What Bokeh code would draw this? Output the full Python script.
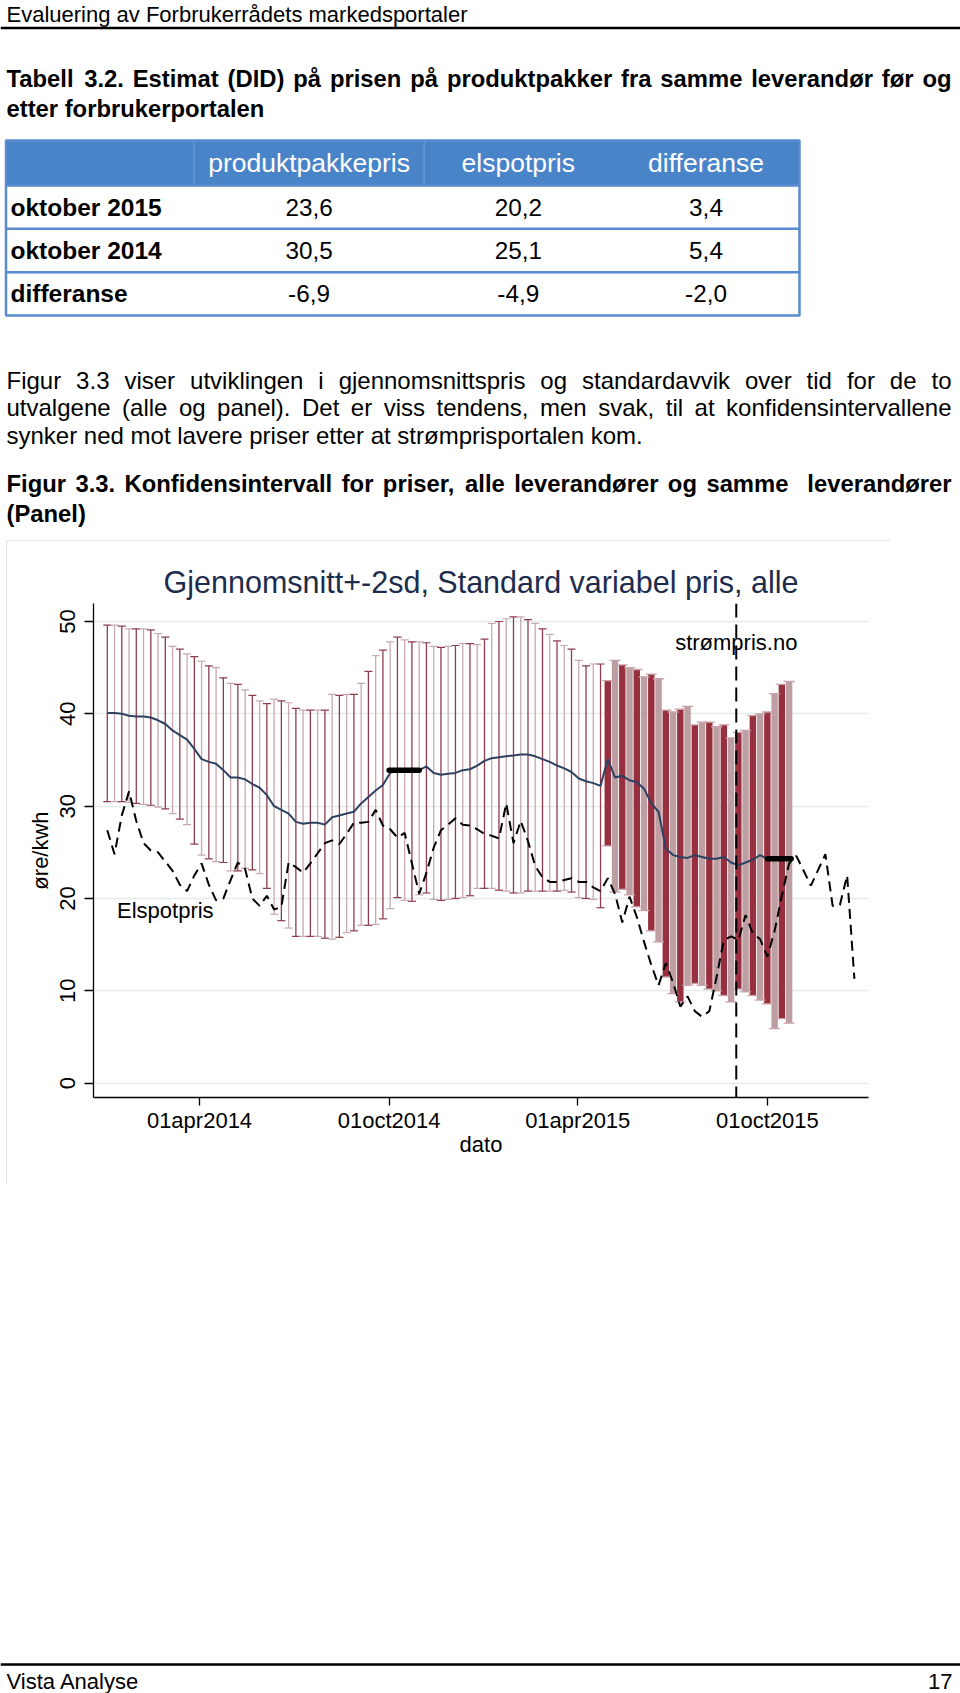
import numpy as np
import pandas as pd
from bokeh.plotting import figure
from bokeh.models import Range1d, FixedTicker, Span, ColumnDataSource, Spacer
from bokeh.layouts import column, row
from bokeh.core.properties import value
from bokeh.embed import file_html
from bokeh.resources import INLINE

FONT = "Liberation Sans"

# ---------------- page texts ----------------
header_text = "Evaluering av Forbrukerrådets markedsportaler"
table_title = ["Tabell 3.2. Estimat (DID) på prisen på produktpakker fra samme leverandør før og",
               "etter forbrukerportalen"]
table_columns = ["produktpakkepris", "elspotpris", "differanse"]
table_rows = ["oktober 2015", "oktober 2014", "differanse"]
produktpakkepris = ["23,6", "30,5", "-6,9"]
elspotpris = ["20,2", "25,1", "-4,9"]
differanse = ["3,4", "5,4", "-2,0"]
paragraph = ["Figur 3.3 viser utviklingen i gjennomsnittspris og standardavvik over tid for de to",
             "utvalgene (alle og panel). Det er viss tendens, men svak, til at konfidensintervallene",
             "synker ned mot lavere priser etter at strømprisportalen kom."]
figure_caption = ["Figur 3.3. Konfidensintervall for priser, alle leverandører og samme  leverandører",
                  "(Panel)"]
footer_left = "Vista Analyse"
footer_right = "17"

# ---------------- chart data ----------------
chart_title = "Gjennomsnitt+-2sd, Standard variabel pris, alle"
y_label = "øre/kwh"
x_label = "dato"
x_tick_dates = ["2014-04-01", "2014-10-01", "2015-04-01", "2015-10-01"]
x_tick_labels = ["01apr2014", "01oct2014", "01apr2015", "01oct2015"]
y_ticks = [0, 10, 20, 30, 40, 50]

alle_start = "2014-01-02"   # weekly observations, all suppliers
alle_mean = [40.1, 40.1, 40.0, 39.8, 39.7, 39.7, 39.6, 39.3, 38.9, 38.2,
             37.7, 37.2, 36.2, 35.1, 34.8, 34.6, 33.9, 33.1, 33.1, 32.9,
             32.4, 32.0, 31.2, 30.0, 29.6, 29.2, 28.3, 28.1, 28.2, 28.2,
             28.0, 28.8, 29.0, 29.2, 29.4, 30.3, 31.0, 31.7, 32.3, 33.6,
             33.9, 33.9, 33.9, 33.9, 34.3, 33.6, 33.4, 33.5, 33.6, 33.9,
             34.0, 34.4, 34.9, 35.2, 35.3, 35.4, 35.5, 35.6, 35.6, 35.4,
             35.1, 34.8, 34.4, 34.1, 33.7, 33.0, 32.7, 32.5, 32.2]
alle_upper = [49.6, 49.6, 49.5, 49.2, 49.2, 49.2, 49.1, 48.7, 48.3, 47.3,
              47.0, 46.5, 46.2, 45.7, 45.2, 45.0, 43.9, 43.3, 43.2, 42.6,
              42.0, 41.4, 41.1, 41.6, 41.4, 41.2, 40.6, 40.4, 40.4, 40.4,
              40.4, 42.1, 42.0, 42.1, 42.1, 43.3, 44.6, 46.3, 46.9, 47.8,
              48.3, 48.0, 47.8, 47.8, 47.7, 47.3, 47.2, 47.3, 47.4, 47.6,
              47.6, 47.5, 48.1, 49.8, 50.0, 50.3, 50.5, 50.5, 50.2, 49.8,
              49.2, 48.6, 47.9, 47.4, 47.0, 45.8, 45.2, 45.4, 45.4]
alle_lower = [30.5, 30.5, 30.5, 30.4, 30.3, 30.2, 30.1, 29.9, 29.7, 29.2,
              28.6, 28.0, 25.9, 24.7, 24.3, 24.0, 23.9, 23.0, 23.0, 23.3,
              23.1, 22.7, 21.1, 18.3, 17.6, 16.8, 15.9, 15.9, 15.9, 15.9,
              15.7, 15.6, 15.8, 16.3, 16.5, 17.1, 17.1, 17.2, 17.8, 18.9,
              20.1, 19.8, 19.7, 20.4, 20.6, 19.9, 19.8, 19.9, 20.0, 20.1,
              20.3, 21.1, 21.1, 21.1, 20.9, 20.8, 20.6, 20.6, 20.8, 20.8,
              20.8, 20.8, 20.8, 20.9, 20.7, 20.1, 20.0, 19.9, 19.0]

panel_start = "2015-04-30"  # weekly observations, panel
panel_mean = [35.1, 33.1, 33.3, 32.8, 32.6, 31.9, 30.3, 29.4, 25.4, 24.7,
              24.5, 24.4, 24.7, 24.5, 24.3, 24.3, 24.5, 23.9, 23.6, 23.9,
              24.2, 24.7, 24.3, 24.3, 24.3, 24.3]
panel_upper = [43.6, 45.8, 45.3, 45.0, 44.8, 44.0, 44.3, 43.8, 40.4, 40.2,
               40.5, 40.8, 38.8, 39.1, 39.1, 38.6, 38.8, 37.4, 38.0, 38.2,
               39.8, 40.0, 40.2, 42.2, 43.2, 43.5]
panel_lower = [25.7, 20.7, 21.0, 20.4, 19.1, 18.7, 16.5, 15.3, 11.5, 9.7,
               8.8, 10.6, 10.8, 10.6, 10.2, 10.0, 9.5, 8.8, 10.2, 9.9,
               9.5, 9.0, 8.6, 5.9, 7.0, 6.5]

elspot_start = "2014-01-02"  # weekly elspot price
elspot = [27.4, 24.8, 29.0, 31.6, 28.4, 26.0, 25.2, 25.0, 24.0, 23.0,
          21.5, 20.8, 22.5, 23.8, 21.5, 19.8, 20.0, 22.0, 23.9, 23.2,
          20.0, 19.2, 20.3, 18.8, 19.1, 23.9, 23.4, 22.8, 23.8, 24.9,
          26.0, 26.3, 25.9, 27.0, 28.2, 28.2, 28.3, 29.6, 27.9, 27.5,
          26.6, 27.1, 23.8, 20.5, 22.8, 25.5, 27.4, 28.0, 28.7, 28.0,
          27.9, 27.5, 27.0, 26.8, 26.5, 30.3, 26.0, 28.4, 26.2, 23.5,
          22.3, 21.8, 21.8, 22.0, 22.2, 21.8, 21.8, 21.2, 20.8, 22.2,
          20.5, 17.4, 20.2, 18.0, 15.3, 12.8, 10.6, 13.0, 10.9, 8.3,
          9.4, 7.8, 7.2, 7.8, 11.5, 15.5, 15.9, 15.5, 18.2, 16.2,
          15.6, 13.7, 16.5, 20.3, 23.8, 24.6, 23.0, 21.4, 23.1, 24.8,
          19.2, 19.3, 22.5, 11.3]

october_start = ["2014-10-01", "2015-10-01"]
october_end = ["2014-10-30", "2015-10-24"]
october_value = [33.9, 24.3]

portal_date = "2015-09-01"
portal_label = "strømpris.no"
elspot_label = "Elspotpris"

# ---------------- helpers ----------------
EPOCH = pd.Timestamp("2014-01-01")


def days(d):
    return ((pd.to_datetime(d) - EPOCH) / pd.Timedelta(days=1))


def weekly_days(start, n):
    return list(days(pd.date_range(start, periods=n, freq="7D")))


W_REG = {' ': 278, 'a': 556, 'b': 556, 'c': 500, 'd': 556, 'e': 556, 'f': 278, 'g': 556,
         'h': 556, 'i': 222, 'j': 222, 'k': 500, 'l': 222, 'm': 833, 'n': 556, 'o': 556,
         'p': 556, 'q': 556, 'r': 333, 's': 500, 't': 278, 'u': 556, 'v': 500, 'w': 722,
         'x': 500, 'y': 500, 'z': 500, 'å': 556, 'ø': 611, 'æ': 889,
         'A': 667, 'D': 722, 'E': 667, 'F': 611, 'T': 611, 'V': 667, 'P': 667,
         '.': 278, ',': 278, '(': 333, ')': 333, '-': 333}
W_BOLD = {' ': 278, 'a': 556, 'b': 611, 'c': 556, 'd': 611, 'e': 556, 'f': 333, 'g': 611,
          'h': 611, 'i': 278, 'j': 278, 'k': 556, 'l': 278, 'm': 889, 'n': 611, 'o': 611,
          'p': 611, 'r': 389, 's': 556, 't': 333, 'u': 611, 'v': 556, 'y': 556, 'z': 500,
          'å': 556, 'ø': 611, 'D': 722, 'E': 667, 'F': 611, 'I': 278, 'K': 722, 'P': 667,
          'T': 611, '.': 278, ',': 278, '(': 333, ')': 333, '-': 333}


def text_width(s, fs, bold):
    tbl = W_BOLD if bold else W_REG
    return sum(tbl.get(ch, 556) for ch in s) * fs / 1000.0


def place_line(line, x0, x1, fs, bold, justify):
    words = line.split(" ")
    widths = [text_width(w, fs, bold) for w in words]
    if justify and len(words) > 1:
        gap = (x1 - x0 - sum(widths)) / (len(words) - 1)
    else:
        gap = text_width(" ", fs, bold)
    out = []
    x = x0
    for w, wd in zip(words, widths):
        if w:
            out.append((x, w))
        x += wd + gap
    return out


def page_fig(h, y_top, y_bottom):
    f = figure(width=960, height=h, x_range=Range1d(0, 960), y_range=Range1d(y_bottom, y_top),
               output_backend="svg", toolbar_location=None, min_border=0,
               x_axis_location=None, y_axis_location=None)
    f.grid.visible = False
    f.outline_line_color = None
    f.background_fill_color = "white"
    f.border_fill_color = "white"
    return f


def draw_words(f, items, y, fs, bold, color="black", align="left", baseline="alphabetic"):
    f.text(x=[i[0] for i in items], y=[y] * len(items), text=[i[1] for i in items],
           text_font=value(FONT), text_font_size=f"{fs}px",
           text_font_style="bold" if bold else "normal", text_color=color,
           text_align=align, text_baseline=baseline)


# ---------------- top part of page ----------------
top = page_fig(540, 0, 540)
L, R = 6, 951
draw_words(top, [(6, header_text)], 14, 22, False)
top.segment(x0=[0], y0=[27.5], x1=[960], y1=[27.5], line_color="black", line_width=2.5)

draw_words(top, place_line(table_title[0], L, R, 23.8, True, True), 77.5, 23.8, True)
draw_words(top, place_line(table_title[1], L, R, 23.8, True, False), 107.5, 23.8, True)

# table
BLUE = "#4a84c8"
LINE_BLUE = "#5a8ad0"
col_edges = [5.5, 193.5, 423.6, 612, 799]
row_edges = [140, 185, 228.3, 271.7, 315]
top.quad(left=[col_edges[0]], right=[col_edges[-1]], top=[row_edges[0]], bottom=[row_edges[1]],
         fill_color=BLUE, line_color=None)
top.segment(x0=col_edges[1:3], y0=[row_edges[0]] * 2, x1=col_edges[1:3], y1=[row_edges[1]] * 2,
            line_color="white", line_alpha=0.25, line_width=1)
top.segment(x0=[col_edges[0]] * 3, y0=row_edges[1:4], x1=[col_edges[-1]] * 3, y1=row_edges[1:4],
            line_color=LINE_BLUE, line_width=2.5)
top.quad(left=[col_edges[0]], right=[col_edges[-1]], top=[row_edges[0]], bottom=[row_edges[-1]],
         fill_color=None, line_color=LINE_BLUE, line_width=2.5)
col_centers = [(col_edges[i] + col_edges[i + 1]) / 2 for i in range(1, 4)]
row_centers = [(row_edges[i] + row_edges[i + 1]) / 2 for i in range(4)]
top.text(x=col_centers, y=[row_centers[0]] * 3, text=table_columns, text_font=value(FONT),
         text_font_size="26.5px", text_color="white", text_align="center", text_baseline="middle")
top.text(x=[10] * 3, y=row_centers[1:], text=table_rows, text_font=value(FONT),
         text_font_size="24.5px", text_font_style="bold", text_color="black",
         text_align="left", text_baseline="middle")
for ci, colvals in enumerate([produktpakkepris, elspotpris, differanse]):
    top.text(x=[col_centers[ci]] * 3, y=row_centers[1:], text=colvals, text_font=value(FONT),
             text_font_size="24.3px", text_color="black", text_align="center",
             text_baseline="middle")

# paragraph
para_y = [380, 407, 434.5]
for i, line in enumerate(paragraph):
    draw_words(top, place_line(line, L, R, 24, False, i < 2), para_y[i], 24, False)

cap_y = [483, 513]
for i, line in enumerate(figure_caption):
    draw_words(top, place_line(line, L, R, 23.8, True, i < 1), cap_y[i], 23.8, True)

# ---------------- chart ----------------
alle_x = weekly_days(alle_start, len(alle_mean))
panel_x = weekly_days(panel_start, len(panel_mean))
elspot_x = weekly_days(elspot_start, len(elspot))

chart = figure(width=884, height=645, x_range=Range1d(-12.3, 735.6), y_range=Range1d(-1.55, 51.95),
               output_backend="svg", toolbar_location=None,
               min_border_left=87, min_border_right=22, min_border_top=63, min_border_bottom=88)
chart.outline_line_color = None
chart.background_fill_color = "white"
chart.border_fill_color = "white"
chart.styles = {"outline": "1px solid #dcdcdc", "outline-offset": "-1px"}

chart.title.text = chart_title
chart.title.align = "center"
chart.title.text_font = FONT
chart.title.text_font_size = "30.5px"
chart.title.text_font_style = "normal"
chart.title.text_color = "#1d2c4c"
chart.title.standoff = 9

chart.xgrid.visible = False
chart.ygrid.ticker = FixedTicker(ticks=y_ticks)
chart.ygrid.grid_line_color = "#e3ebeb"
chart.ygrid.grid_line_width = 1.5

tick_days = [int(round(days(d))) for d in x_tick_dates]
chart.xaxis.ticker = FixedTicker(ticks=tick_days)
chart.xaxis.major_label_overrides = {d: lab for d, lab in zip(tick_days, x_tick_labels)}
chart.yaxis.ticker = FixedTicker(ticks=y_ticks)
chart.yaxis.major_label_orientation = "vertical"
chart.xaxis.axis_label = x_label
chart.yaxis.axis_label = y_label
for ax in chart.xaxis + chart.yaxis:
    ax.axis_line_color = "black"
    ax.axis_line_width = 1.3
    ax.major_tick_line_color = "black"
    ax.major_tick_line_width = 1.3
    ax.major_tick_in = 0
    ax.minor_tick_line_color = None
    ax.major_label_text_font = FONT
    ax.major_label_text_font_size = "22px"
    ax.major_label_text_color = "black"
    ax.axis_label_text_font = FONT
    ax.axis_label_text_font_size = "22px"
    ax.axis_label_text_font_style = "normal"
    ax.axis_label_text_color = "black"
chart.xaxis.major_tick_out = 8
chart.xaxis.major_label_standoff = 2
chart.xaxis.axis_label_standoff = -4
chart.yaxis.major_tick_out = 9
chart.yaxis.major_label_standoff = 9
chart.yaxis.axis_label_standoff = 5

# thin weekly error bars (all suppliers)
thin_dark, thin_light = "#8e3d4c", "#c6aab0"
alle_src = ColumnDataSource(dict(
    x=alle_x, upper=alle_upper, lower=alle_lower,
    color=[thin_dark if i % 2 == 0 else thin_light for i in range(len(alle_x))]))
chart.segment(x0="x", y0="lower", x1="x", y1="upper", line_color="color", line_width=1.3,
              source=alle_src)
chart.scatter(x="x", y="upper", marker="dash", size=8, line_color="color", line_width=1.2,
              source=alle_src)
chart.scatter(x="x", y="lower", marker="dash", size=8, line_color="color", line_width=1.2,
              source=alle_src)

# thick panel error bars
thick_dark, thick_light = "#982f3e", "#bd9ea3"
panel_src = ColumnDataSource(dict(
    x=panel_x, upper=panel_upper, lower=panel_lower,
    color=[thick_dark if i % 2 == 0 else thick_light for i in range(len(panel_x))]))
chart.vbar(x="x", top="upper", bottom="lower", width=6.2, fill_color="color", line_color=None,
           source=panel_src)
chart.scatter(x="x", y="upper", marker="dash", size=11, line_color="#c7a2a9", line_width=1.3,
              source=panel_src)
chart.scatter(x="x", y="lower", marker="dash", size=11, line_color="#c7a2a9", line_width=1.3,
              source=panel_src)

# mean line
chart.line(x=alle_x + panel_x, y=alle_mean + panel_mean, line_color="#2e4160", line_width=2)

# elspot price
chart.line(x=elspot_x, y=elspot, line_color="black", line_width=2, line_dash="10 6")

# October averages
chart.segment(x0=list(days(october_start)), y0=october_value, x1=list(days(october_end)),
              y1=october_value, line_color="black", line_width=5.5, line_cap="round")

# portal launch
chart.add_layout(Span(location=float(days(portal_date)), dimension="height", line_color="black",
                      line_width=2, line_dash="14 7"))
chart.text(x=[float(days(portal_date))], y=[47.7], text=[portal_label], text_font=value(FONT),
           text_font_size="22px", text_color="black", text_align="center", text_baseline="middle")
chart.text(x=[float(days("2014-02-27"))], y=[18.7], text=[elspot_label], text_font=value(FONT),
           text_font_size="22px", text_color="black", text_align="center", text_baseline="middle")

# ---------------- bottom part of page ----------------
bottom = page_fig(508, 1185, 1693)
bottom.segment(x0=[0], y0=[1664], x1=[960], y1=[1664], line_color="black", line_width=2.5)
draw_words(bottom, [(6, footer_left)], 1681, 22, False)
draw_words(bottom, [(952, footer_right)], 1681, 22, False, align="right")

layout = column(top, row(Spacer(width=6, height=645), chart), bottom)
open("out.html", "w").write(file_html(layout, INLINE))
